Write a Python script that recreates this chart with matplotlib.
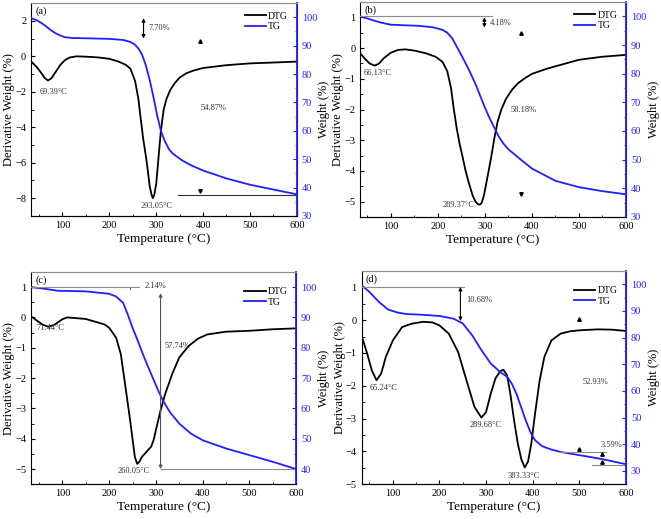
import matplotlib
matplotlib.use("Agg")
import matplotlib.pyplot as plt
from matplotlib.ticker import AutoMinorLocator, MultipleLocator

plt.rcParams['font.family'] = ['Liberation Serif', 'DejaVu Serif']
plt.rcParams['mathtext.fontset'] = 'stix'

# ---- panel (a) ----
a_dtg_t = [33, 45, 55, 62, 69, 76, 85, 95, 105, 115, 130, 150, 175, 200, 220, 235, 245, 255, 262, 266,
           272, 280, 286, 290, 293, 296, 300, 304, 310, 316, 322, 330, 340, 350, 365, 380, 400, 450, 500, 550, 600]
a_dtg = [-0.29, -0.6, -0.95, -1.22, -1.36, -1.25, -0.9, -0.5, -0.22, -0.07, 0.0, -0.02, -0.06, -0.14, -0.3,
         -0.48, -0.7, -1.4, -2.4, -3.3, -4.6, -6.0, -7.3, -7.8, -8.0, -7.8, -7.2, -6.0, -4.2, -3.0, -2.4,
         -1.9, -1.5, -1.2, -0.95, -0.8, -0.66, -0.5, -0.4, -0.35, -0.3]
a_tg_t = [33, 45, 55, 65, 75, 85, 95, 105, 120, 150, 200, 230, 245, 255, 262, 270, 278, 286, 294, 302,
          310, 318, 327, 335, 355, 375, 400, 450, 500, 550, 600]
a_tg = [99.7, 99.0, 98.0, 96.8, 95.5, 94.4, 93.6, 93.0, 92.7, 92.6, 92.4, 92.0, 91.3, 90.3, 89.0, 86.8,
        83.0, 78.0, 72.0, 65.5, 60.0, 56.5, 53.6, 52.0, 49.6, 47.8, 46.0, 43.2, 41.0, 39.3, 37.6]

# ---- panel (b) ----
b_dtg_t = [35, 45, 55, 66, 75, 85, 100, 115, 130, 150, 175, 195, 210, 220, 228, 234, 240, 246, 252, 259,
           266, 274, 280, 285, 289, 293, 298, 303, 308, 314, 320, 327, 335, 345, 358, 370, 385, 400, 430,
           460, 500, 550, 600]
b_dtg = [-0.17, -0.35, -0.5, -0.57, -0.5, -0.33, -0.15, -0.06, -0.04, -0.08, -0.17, -0.28, -0.45, -0.75,
         -1.3, -2.0, -2.6, -3.1, -3.5, -4.0, -4.4, -4.8, -5.0, -5.08, -5.1, -5.05, -4.8, -4.4, -4.0, -3.5,
         -2.95, -2.4, -2.0, -1.65, -1.35, -1.15, -0.98, -0.84, -0.68, -0.55, -0.38, -0.28, -0.22]
b_tg_t = [35, 50, 65, 80, 100, 130, 160, 190, 210, 220, 230, 240, 250, 260, 270, 280, 290, 300, 310, 320,
          330, 340, 350, 375, 400, 450, 500, 550, 600]
b_tg = [100, 99.3, 98.5, 97.8, 97.1, 96.9, 96.7, 96.2, 95.3, 94.3, 92.5, 89.5, 86.5, 83.3, 80.0, 76.4,
        72.3, 68.2, 64.5, 61.2, 57.9, 55.5, 53.6, 50.2, 46.9, 42.6, 40.4, 39.0, 37.9]

# ---- panel (c) ----
c_dtg_t = [33, 45, 58, 71, 85, 100, 110, 150, 190, 200, 215, 225, 235, 245, 250, 255, 260, 265, 270, 280,
           290, 295, 300, 310, 320, 335, 350, 370, 390, 410, 450, 500, 550, 600]
c_dtg = [0.04, -0.1, -0.24, -0.31, -0.22, -0.06, 0.0, -0.05, -0.23, -0.34, -0.67, -1.21, -2.3, -3.4, -4.0,
         -4.6, -4.83, -4.75, -4.6, -4.43, -4.26, -4.05, -3.72, -3.07, -2.52, -1.86, -1.32, -0.94, -0.7,
         -0.56, -0.47, -0.44, -0.39, -0.36]
c_tg_t = [33, 60, 90, 150, 200, 215, 230, 240, 250, 260, 275, 290, 305, 315, 330, 350, 375, 400, 450,
          500, 550, 600]
c_tg = [100, 99.5, 98.8, 98.6, 97.8, 96.9, 94.8, 90.9, 86.6, 82.8, 76.8, 71.3, 65.9, 62.6, 58.8, 55.0,
        51.7, 49.5, 46.8, 44.6, 42.4, 40.0]

# ---- panel (d) ----
d_dtg_t = [33, 45, 55, 65, 75, 85, 100, 120, 140, 165, 185, 200, 220, 240, 260, 275, 290, 300, 310, 320,
           330, 337, 345, 352, 360, 368, 376, 383, 390, 397, 405, 415, 425, 440, 460, 480, 500, 540, 570, 600]
d_dtg = [-0.47, -1.02, -1.53, -1.83, -1.63, -1.12, -0.62, -0.21, -0.11, -0.05, -0.07, -0.16, -0.41,
         -0.97, -1.93, -2.64, -2.97, -2.8, -2.24, -1.78, -1.56, -1.51, -1.68, -2.24, -3.05, -3.76, -4.26,
         -4.49, -4.31, -3.76, -2.85, -1.83, -1.12, -0.62, -0.41, -0.34, -0.31, -0.28, -0.29, -0.33]
d_tg_t = [33, 50, 70, 90, 110, 130, 160, 200, 230, 250, 270, 290, 310, 330, 345, 355, 365, 375, 385,
          395, 405, 420, 440, 460, 500, 550, 600]
d_tg = [99.6, 97.1, 93.4, 90.5, 89.4, 88.8, 88.6, 88.1, 87.1, 85.3, 80.9, 75.3, 70.3, 67.1, 65.3, 62.8,
        59.0, 54.0, 49.0, 44.6, 41.5, 39.3, 38.0, 37.1, 35.9, 34.4, 32.5]

BLUE = '#1f1fff'
GREY = '#8c8c8c'

fig = plt.figure(figsize=(6.61, 5.19), dpi=100)


def panel(rect, tag, xlim, ylim, ystep, y2lim, t1, dtg, t2, tg, leg_y):
    ax = fig.add_axes(rect)
    ax.plot(t1, dtg, color='black', lw=1.3, label='DTG')
    ax.set_xlim(*xlim)
    ax.set_ylim(*ylim)
    ax.xaxis.set_major_locator(MultipleLocator(100))
    ax.xaxis.set_minor_locator(AutoMinorLocator(2))
    ax.yaxis.set_major_locator(MultipleLocator(ystep))
    ax.yaxis.set_minor_locator(AutoMinorLocator(2))
    ax.tick_params(which='both', direction='in', labelsize=7.5, top=False)
    ax.tick_params(which='major', length=3)
    ax.tick_params(which='minor', length=1.8)
    ax.set_xlabel('Temperature (°C)', fontsize=9.5, labelpad=2)
    ax.set_ylabel('Derivative Weight (%)', fontsize=9, labelpad=0)
    ax.spines['top'].set_color(GREY)
    ax.spines['top'].set_linewidth(0.8)

    ax2 = ax.twinx()
    ax2.plot(t2, tg, color=BLUE, lw=1.3, label='TG')
    ax2.set_ylim(*y2lim)
    ax2.yaxis.set_major_locator(MultipleLocator(10))
    ax2.yaxis.set_minor_locator(AutoMinorLocator(2))
    ax2.tick_params(which='both', direction='in', labelsize=7.5, colors=BLUE)
    ax2.tick_params(which='major', length=3)
    ax2.tick_params(which='minor', length=1.8)
    ax2.spines['right'].set_color(BLUE)
    ax2.spines['right'].set_linewidth(1.3)
    ax2.spines['top'].set_color(GREY)
    ax2.spines['top'].set_linewidth(0.8)
    ax2.spines['left'].set_visible(False)
    ax2.set_ylabel('Weight (%)', fontsize=9, labelpad=1)

    ax.text(0.015, 0.985, tag, transform=ax.transAxes, fontsize=7.5, va='top', ha='left')
    h1, l1 = ax.get_legend_handles_labels()
    h2, l2 = ax2.get_legend_handles_labels()
    ax2.legend(h1 + h2, l1 + l2, loc='upper right', bbox_to_anchor=(1.0, leg_y), frameon=False,
               fontsize=7, handlelength=2.2, handletextpad=0.2, labelspacing=0.15)
    return ax, ax2


def vspan(ax, x, y0, y1, color='black'):
    ax.annotate('', xy=(x, y0), xytext=(x, y1),
                arrowprops=dict(arrowstyle='<|-|>', color=color, lw=0.8, mutation_scale=5,
                                shrinkA=0, shrinkB=0))


def tip(ax, x, y, up=True):
    ax.plot([x], [y], marker='^' if up else 'v', ms=2.5, color='black', lw=0)


tfs = 6

# (a)
ax, ax2 = panel([0.047, 0.584, 0.402, 0.41], '(a)', (33, 600), (-9, 3), 2, (30, 105),
                a_dtg_t, a_dtg, a_tg_t, a_tg, 1.0)
vspan(ax2, 273, 99.7, 92.5)
ax2.text(283, 96.3, '7.70%', fontsize=tfs, va='center', color='#333333')
tip(ax2, 394, 91.5, True)
tip(ax2, 394, 38.8, False)
ax2.plot([346, 600], [37.4, 37.4], color='#333333', lw=0.8)
ax2.text(423, 68.2, '54.87%', fontsize=tfs, ha='center', va='center', color='#333333')
ax.text(81, -2.0, '69.39°C', fontsize=tfs, ha='center', va='center', color='#333333')
ax.text(300, -8.45, '293.05°C', fontsize=tfs, ha='center', va='center', color='#333333')

# (b)
ax, ax2 = panel([0.545, 0.582, 0.402, 0.414], '(b)', (35, 600), (-5.5, 1.5), 1, (30, 105),
                b_dtg_t, b_dtg, b_tg_t, b_tg, 1.0)
ax2.plot([35, 315], [100, 100], color=GREY, lw=0.8)
vspan(ax2, 299, 99.7, 96.1)
ax2.text(310, 97.6, '4.18%', fontsize=tfs, va='center', color='#333333')
tip(ax2, 377, 94.2, True)
tip(ax2, 377, 38.0, False)
ax2.text(382, 67.4, '58.18%', fontsize=tfs, ha='center', va='center', color='#333333')
ax.text(72, -0.8, '66.13°C', fontsize=tfs, ha='center', va='center', color='#333333')
ax.text(243, -5.1, '289.37°C', fontsize=tfs, ha='center', va='center', color='#333333')

# (c)
ax, ax2 = panel([0.047, 0.067, 0.401, 0.409], '(c)', (33, 600), (-5.5, 1.5), 1, (35, 105),
                c_dtg_t, c_dtg, c_tg_t, c_tg, 0.97)
ax2.plot([33, 263], [100, 100], color=GREY, lw=0.8)
ax2.plot([245, 245], [99.6, 98.6], color='black', lw=0.8, ls=':')
ax2.text(275, 100.4, '2.14%', fontsize=tfs, va='center', color='#333333')
vspan(ax2, 310, 98.0, 40.0, color='#555555')
ax2.plot([310, 600], [40, 40], color=GREY, lw=0.8)
ax.text(319, -0.94, '57.74%', fontsize=tfs, va='center', color='#333333')
ax.text(74, -0.35, '71.44°C', fontsize=tfs, ha='center', va='center', color='#333333')
ax.text(252, -5.07, '260.05°C', fontsize=tfs, ha='center', va='center', color='#333333')

# (d)
ax, ax2 = panel([0.547, 0.067, 0.400, 0.411], '(d)', (33, 600), (-5, 1.5), 1, (25, 105),
                d_dtg_t, d_dtg, d_tg_t, d_tg, 0.97)
ax2.plot([33, 252], [99.0, 99.0], color=GREY, lw=0.8)
vspan(ax2, 245, 99.0, 86.2)
ax2.text(258, 94.0, '10.68%', fontsize=tfs, va='center', color='#333333')
tip(ax2, 500, 87.0, True)
ax2.text(534, 63.4, '52.93%', fontsize=tfs, ha='center', va='center', color='#333333')
ax2.plot([458, 558], [37.1, 37.1], color=GREY, lw=0.8)
ax2.plot([527, 600], [32.3, 32.3], color=GREY, lw=0.8)
tip(ax2, 500, 38.1, True)
tip(ax2, 548, 36.2, True)
tip(ax2, 548, 33.2, True)
ax2.text(545, 39.6, '3.59%', fontsize=tfs, va='center', color='#333333')
ax.text(81, -2.06, '65.24°C', fontsize=tfs, ha='center', va='center', color='#333333')
ax.text(298, -3.2, '289.68°C', fontsize=tfs, ha='center', va='center', color='#333333')
ax.text(380, -4.75, '383.33°C', fontsize=tfs, ha='center', va='center', color='#333333')

fig.savefig('out.png', dpi=100)
